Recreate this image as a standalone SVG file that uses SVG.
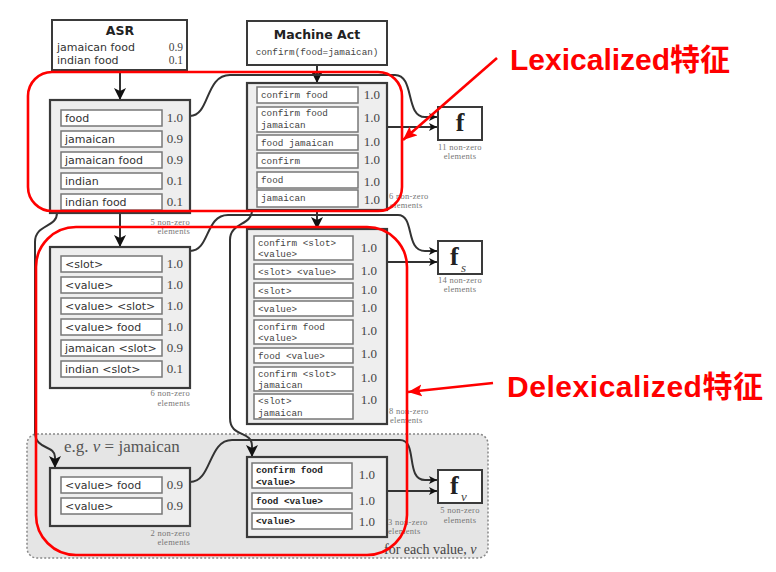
<svg xmlns="http://www.w3.org/2000/svg" width="776" height="572" viewBox="0 0 776 572">
<style>
.box{fill:#eeeeee;stroke:#3a3a3a;stroke-width:2.2}
.wbox{fill:#ffffff;stroke:#3a3a3a;stroke-width:2}
.in{fill:#ffffff;stroke:#777;stroke-width:1.5}
.sans{font-family:"DejaVu Sans",sans-serif;font-size:11px;fill:#333}
.title{font-family:"DejaVu Sans",sans-serif;font-size:12.5px;font-weight:bold;fill:#222}
.val{font-family:"Liberation Serif",serif;font-size:13px;fill:#444;text-anchor:end}
.vals{font-family:"Liberation Serif",serif;font-size:11.5px;fill:#444;text-anchor:end}
.mono{font-family:"Liberation Mono",monospace;font-size:9.3px;fill:#444}
.monob{font-family:"Liberation Mono",monospace;font-size:9.3px;fill:#222;font-weight:bold}
.nz{font-family:"Liberation Serif",serif;font-size:8.5px;fill:#777;letter-spacing:0.3px}
.fbig{font-family:"Liberation Serif",serif;font-size:26px;font-weight:bold;fill:#222}
.fsub{font-family:"Liberation Serif",serif;font-size:13px;font-style:italic;fill:#444}
.conn{fill:none;stroke:#333;stroke-width:2}
.red{fill:none;stroke:#ff0000;stroke-width:2.6}
.redtxt{font-family:"Liberation Sans","Noto Sans CJK SC",sans-serif;font-size:30px;font-weight:bold;fill:#ff0000}
</style>
<defs>
<marker id="big" markerUnits="userSpaceOnUse" markerWidth="14" markerHeight="14" refX="12" refY="6" orient="auto">
<path d="M0,0 L12,6 L0,12 L3,6 z" fill="#111"/>
</marker>
<marker id="sm" markerUnits="userSpaceOnUse" markerWidth="10" markerHeight="10" refX="8" refY="4" orient="auto">
<path d="M0,0 L8,4 L0,8 L2,4 z" fill="#111"/>
</marker>
<marker id="redarr" markerUnits="userSpaceOnUse" markerWidth="16" markerHeight="14" refX="14" refY="6" orient="auto">
<path d="M0,0 L14,6 L0,12 L3,6 z" fill="#ff0000"/>
</marker>
</defs>
<rect width="776" height="572" fill="#ffffff"/>

<g id="value-region">
<rect x="27" y="434" width="461" height="124" rx="10" fill="#e5e5e5" stroke="#888" stroke-width="1.5" stroke-dasharray="2,2"/>
<text x="64" y="452" font-family="Liberation Serif, serif" font-size="17" fill="#555">e.g. <tspan font-style="italic">v</tspan> = jamaican</text>
<text x="384" y="554" font-family="Liberation Serif, serif" font-size="14" fill="#444">for each value, <tspan font-style="italic">v</tspan></text>
</g>

<g id="connectors">
<path class="conn" d="M120,70 L120,100" marker-end="url(#big)"/>
<path class="conn" d="M317,65 L317,83" marker-end="url(#big)"/>
<path class="conn" d="M120,213 L120,247" marker-end="url(#big)"/>
<path class="conn" d="M317,210 L317,229" marker-end="url(#big)"/>
<path class="conn" d="M190,116 C210,116 205,75 230,75 L395,75 C415,75 405,117 425,117 L437,117" marker-end="url(#sm)"/>
<path class="conn" d="M387,127 L437,127" marker-end="url(#sm)"/>
<path class="conn" d="M190,251 C210,251 205,215 228,215 L398,215 C415,215 405,251 425,251 L437,251" marker-end="url(#sm)"/>
<path class="conn" d="M387,262 L437,262" marker-end="url(#sm)"/>
<path class="conn" d="M252,210 C252,226 230,222 230,240 L230,418 C230,438 252,430 252,446 L252,457" marker-end="url(#big)"/>
<path class="conn" d="M57,213 C57,228 35,224 35,242 L35,432 C35,450 55,445 55,457 L55,468" marker-end="url(#big)"/>
<path class="conn" d="M190,482 C212,482 208,440 232,440 L400,440 C418,440 405,480 425,480 L437,480" marker-end="url(#sm)"/>
<path class="conn" d="M387,491 L437,491" marker-end="url(#sm)"/>
</g>

<g id="asr">
<rect class="wbox" x="52" y="20" width="135" height="50"/>
<text class="title" x="120" y="35" text-anchor="middle">ASR</text>
<text class="sans" x="57" y="51">jamaican food</text>
<text class="vals" x="183" y="51">0.9</text>
<text class="sans" x="57" y="64">indian food</text>
<text class="vals" x="183" y="64">0.1</text>
</g>

<g id="machine-act">
<rect class="wbox" x="247" y="21" width="140" height="44"/>
<text class="title" x="317" y="39" text-anchor="middle">Machine Act</text>
<text class="mono" x="317" y="55" text-anchor="middle">confirm(food=jamaican)</text>
</g>

<g id="asr-lex">
<rect class="box" x="50" y="100" width="140" height="113"/>
<rect class="in" x="61" y="110" width="101" height="16"/><text class="sans" x="65" y="122">food</text><text class="val" x="183" y="122">1.0</text>
<rect class="in" x="61" y="131" width="101" height="16"/><text class="sans" x="65" y="143">jamaican</text><text class="val" x="183" y="143">0.9</text>
<rect class="in" x="61" y="152" width="101" height="16"/><text class="sans" x="65" y="164">jamaican food</text><text class="val" x="183" y="164">0.9</text>
<rect class="in" x="61" y="173" width="101" height="16"/><text class="sans" x="65" y="185">indian</text><text class="val" x="183" y="185">0.1</text>
<rect class="in" x="61" y="194" width="101" height="16"/><text class="sans" x="65" y="206">indian food</text><text class="val" x="183" y="206">0.1</text>
<text class="nz" x="190" y="225" text-anchor="end">5 non-zero</text>
<text class="nz" x="190" y="234" text-anchor="end">elements</text>
</g>

<g id="act-lex">
<rect class="box" x="247" y="83" width="140" height="127"/>
<rect class="in" x="257" y="87" width="101" height="16"/><text class="mono" x="261" y="98">confirm food</text><text class="val" x="380" y="99">1.0</text>
<rect class="in" x="257" y="107" width="101" height="25"/><text class="mono" x="261" y="116">confirm food</text><text class="mono" x="261" y="128">jamaican</text><text class="val" x="380" y="122">1.0</text>
<rect class="in" x="257" y="135" width="101" height="15"/><text class="mono" x="261" y="146">food jamaican</text><text class="val" x="380" y="146">1.0</text>
<rect class="in" x="257" y="153" width="101" height="15"/><text class="mono" x="261" y="164">confirm</text><text class="val" x="380" y="164">1.0</text>
<rect class="in" x="257" y="172" width="101" height="16"/><text class="mono" x="261" y="183">food</text><text class="val" x="380" y="186">1.0</text>
<rect class="in" x="257" y="190" width="101" height="17"/><text class="mono" x="261" y="201">jamaican</text><text class="val" x="380" y="204">1.0</text>
<text class="nz" x="389" y="199">6 non-zero</text>
<text class="nz" x="390" y="208">elements</text>
</g>

<g id="f">
<rect class="wbox" x="438" y="107" width="44" height="33"/>
<text class="fbig" x="460" y="131" text-anchor="middle">f</text>
<text class="nz" x="460" y="150" text-anchor="middle">11 non-zero</text>
<text class="nz" x="460" y="159" text-anchor="middle">elements</text>
</g>

<g id="asr-delex">
<rect class="box" x="50" y="247" width="140" height="141"/>
<rect class="in" x="61" y="256" width="101" height="16"/><text class="sans" x="65" y="268">&lt;slot&gt;</text><text class="val" x="183" y="268">1.0</text>
<rect class="in" x="61" y="277" width="101" height="16"/><text class="sans" x="65" y="289">&lt;value&gt;</text><text class="val" x="183" y="289">1.0</text>
<rect class="in" x="61" y="298" width="101" height="16"/><text class="sans" x="65" y="310">&lt;value&gt; &lt;slot&gt;</text><text class="val" x="183" y="310">1.0</text>
<rect class="in" x="61" y="319" width="101" height="16"/><text class="sans" x="65" y="331">&lt;value&gt; food</text><text class="val" x="183" y="331">1.0</text>
<rect class="in" x="61" y="340" width="101" height="16"/><text class="sans" x="65" y="352">jamaican &lt;slot&gt;</text><text class="val" x="183" y="352">0.9</text>
<rect class="in" x="61" y="361" width="101" height="16"/><text class="sans" x="65" y="373">indian &lt;slot&gt;</text><text class="val" x="183" y="373">0.1</text>
<text class="nz" x="190" y="396" text-anchor="end">6 non-zero</text>
<text class="nz" x="190" y="406" text-anchor="end">elements</text>
</g>

<g id="act-delex">
<rect class="box" x="247" y="229" width="140" height="195"/>
<rect class="in" x="254" y="236" width="99" height="24"/><text class="mono" x="258" y="246">confirm &lt;slot&gt;</text><text class="mono" x="258" y="257">&lt;value&gt;</text><text class="val" x="377" y="252">1.0</text>
<rect class="in" x="254" y="264" width="99" height="15"/><text class="mono" x="258" y="275">&lt;slot&gt; &lt;value&gt;</text><text class="val" x="377" y="275">1.0</text>
<rect class="in" x="254" y="283" width="99" height="15"/><text class="mono" x="258" y="294">&lt;slot&gt;</text><text class="val" x="377" y="294">1.0</text>
<rect class="in" x="254" y="301" width="99" height="15"/><text class="mono" x="258" y="312">&lt;value&gt;</text><text class="val" x="377" y="312">1.0</text>
<rect class="in" x="254" y="320" width="99" height="24"/><text class="mono" x="258" y="330">confirm food</text><text class="mono" x="258" y="341">&lt;value&gt;</text><text class="val" x="377" y="335">1.0</text>
<rect class="in" x="254" y="348" width="99" height="15"/><text class="mono" x="258" y="359">food &lt;value&gt;</text><text class="val" x="377" y="358">1.0</text>
<rect class="in" x="254" y="367" width="99" height="24"/><text class="mono" x="258" y="377">confirm &lt;slot&gt;</text><text class="mono" x="258" y="388">jamaican</text><text class="val" x="377" y="382">1.0</text>
<rect class="in" x="254" y="394" width="99" height="25"/><text class="mono" x="258" y="404">&lt;slot&gt;</text><text class="mono" x="258" y="416">jamaican</text><text class="val" x="377" y="404">1.0</text>
<text class="nz" x="389" y="414">8 non-zero</text>
<text class="nz" x="390" y="423">elements</text>
</g>

<g id="fs">
<rect class="wbox" x="438" y="241" width="44" height="33"/>
<text class="fbig" x="450" y="265">f</text>
<text class="fsub" x="461" y="272">s</text>
<text class="nz" x="460" y="283" text-anchor="middle">14 non-zero</text>
<text class="nz" x="460" y="292" text-anchor="middle">elements</text>
</g>

<g id="asr-value">
<rect class="box" x="50" y="468" width="140" height="58"/>
<rect class="in" x="61" y="477" width="101" height="16"/><text class="sans" x="65" y="489">&lt;value&gt; food</text><text class="val" x="183" y="489">0.9</text>
<rect class="in" x="61" y="498" width="101" height="16"/><text class="sans" x="65" y="510">&lt;value&gt;</text><text class="val" x="183" y="510">0.9</text>
<text class="nz" x="190" y="536" text-anchor="end">2 non-zero</text>
<text class="nz" x="190" y="545" text-anchor="end">elements</text>
</g>

<g id="act-value">
<rect class="box" x="247" y="457" width="140" height="80"/>
<rect class="in" x="252" y="463" width="100" height="25"/><text class="monob" x="256" y="473">confirm food</text><text class="monob" x="256" y="485">&lt;value&gt;</text><text class="val" x="375" y="479">1.0</text>
<rect class="in" x="252" y="493" width="100" height="16"/><text class="monob" x="256" y="504">food &lt;value&gt;</text><text class="val" x="375" y="505">1.0</text>
<rect class="in" x="252" y="513" width="100" height="16"/><text class="monob" x="256" y="524">&lt;value&gt;</text><text class="val" x="375" y="526">1.0</text>
<text class="nz" x="388" y="525">3 non-zero</text>
<text class="nz" x="388" y="534">elements</text>
</g>

<g id="fv">
<rect class="wbox" x="438" y="470" width="44" height="33"/>
<text class="fbig" x="450" y="494">f</text>
<text class="fsub" x="461" y="501">v</text>
<text class="nz" x="460" y="513" text-anchor="middle">5 non-zero</text>
<text class="nz" x="460" y="523" text-anchor="middle">elements</text>
</g>

<g id="annotations">
<rect class="red" x="28" y="72" width="374" height="139" rx="24"/>
<rect class="red" x="36" y="227" width="371" height="328" rx="40"/>
<path class="red" d="M497,58 L403,140" marker-end="url(#redarr)"/>
<path class="red" d="M493,383 L408,392" marker-end="url(#redarr)"/>
<text class="redtxt" x="510" y="70">Lexicalized特征</text>
<text class="redtxt" x="507" y="397" textLength="256">Delexicalized特征</text>
</g>
</svg>
